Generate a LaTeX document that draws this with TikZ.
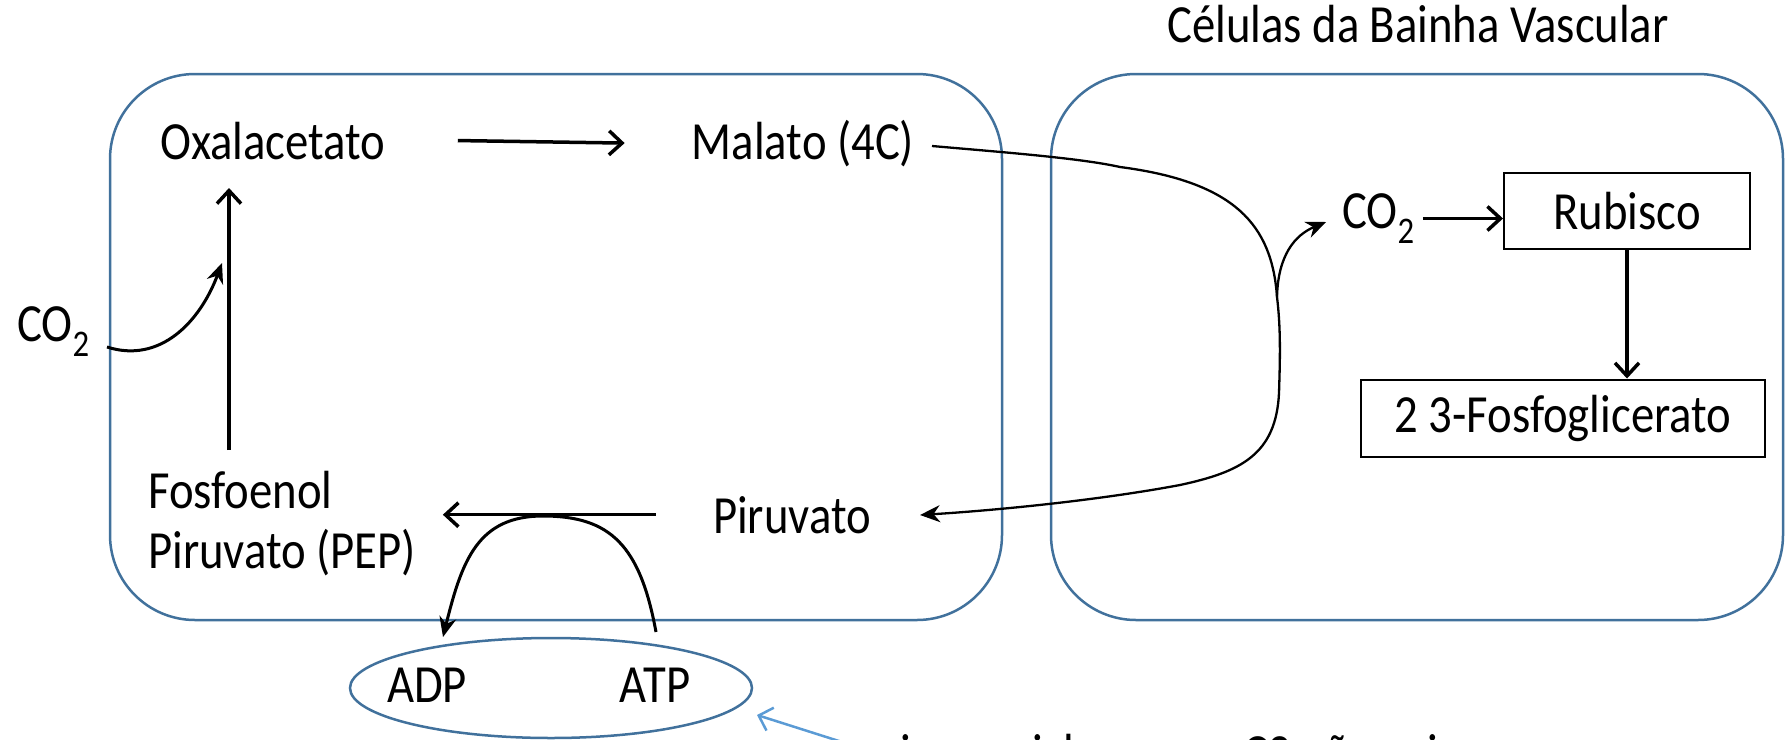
\documentclass[tikz,border=0pt]{standalone}
\usepackage{fontspec}
\setmainfont{Carlito}[FakeStretch=0.87]
\usetikzlibrary{arrows.meta,shapes.geometric}
\definecolor{cellblue}{RGB}{65,113,156}
\definecolor{noteblue}{RGB}{91,155,213}
\tikzset{
  lbl/.style={font=\fontsize{53.7}{60}\selectfont, inner sep=0pt},
  boxnode/.style={lbl, draw, line width=2pt},
  cell/.style={draw=cellblue, line width=2.5pt, rounded corners=85pt},
  arr/.style={line width=3.5pt, -{Straight Barb[length=13pt,width=24pt]}},
  sarr/.style={line width=3pt, -{Stealth[length=20pt,width=17pt]}},
  thinarr/.style={line width=2.3pt, -{Stealth[length=20pt,width=17pt]}},
  notearr/.style={draw=noteblue, line width=2.5pt, -{Straight Barb[length=12pt,width=24pt]}}
}
\begin{document}
\begin{tikzpicture}[x=1pt,y=-1pt]
\useasboundingbox (0,0) rectangle (1785,739);
\clip (0,0) rectangle (1785,739);
% cells
\draw[cell] (110,74) rectangle (1002,620);
\draw[cell] (1051,74) rectangle (1783,620);
% labels
\node[lbl, anchor=base] (oxal) at (273,159) {Oxalacetato};
\node[lbl, anchor=base] (mal) at (803,159) {Malato (4C)};
\node[lbl, anchor=base west] (co2l) at (17,341) {CO\textsubscript{2}};
\node[lbl, anchor=base] (pir) at (792,533) {Piruvato};
\node[lbl, anchor=north west, align=left] (pep) at (148,471) {Fosfoenol\\Piruvato (PEP)};
\node[ellipse, draw=cellblue, line width=2.5pt, minimum width=402pt, minimum height=100pt, inner sep=0pt] (ell) at (551,688) {};
\node[lbl, anchor=base] (adp) at (427,702) {ADP};
\node[lbl, anchor=base] (atp) at (655,702) {ATP};
\node[lbl, anchor=base] (title) at (1418,42) {Células da Bainha Vascular};
\node[lbl, anchor=base west] (co2r) at (1342,228) {CO\textsubscript{2}};
\node[boxnode, minimum width=246pt, minimum height=76pt] (rub) at (1627,211) {Rubisco};
\node[boxnode, minimum width=404pt, minimum height=77pt] (pga) at (1563,418) {2 3-Fosfoglicerato};
\node[lbl, anchor=base west] (note) at (841,771) {mais um ciclo que as C3 não exigem};
% coordinates
\coordinate (vb) at (229,450);
\coordinate (vt) at (229,188);
\coordinate (c1) at (107,347);
\coordinate (c1t) at (222,263);
\coordinate (ms) at (932,146);
\coordinate (br) at (1277,297);
\coordinate (co2tip) at (1326,222);
\coordinate (pirtip) at (920,515);
\coordinate (atps) at (656,632);
\coordinate (arctop) at (543,516);
\coordinate (adpt) at (443,637);
\coordinate (ntail) at (842,742);
\coordinate (ntip) at (757,715);
% arrows
\draw[arr] ([xshift=72pt]oxal.east) -- ([xshift=-67pt]mal.west);
\draw[arr] (vb) -- (vt);
\draw[sarr] (c1) .. controls (160,364) and (200,322) .. (c1t);
\draw[arr] ([xshift=-57pt]pir.west) -- ([xshift=-270pt]pir.west);
\draw[sarr] (atps) .. controls (640,545) and (610,516) .. (arctop) .. controls (478,516) and (462,560) .. (adpt);
\draw[thinarr] (ms) .. controls (1000,152) and (1080,158) .. (1120,167)
   .. controls (1235,182) and (1272,225) .. (br)
   .. controls (1281,330) and (1280,360) .. (1279,393)
   .. controls (1276,455) and (1240,472) .. (1180,485)
   .. controls (1100,500) and (1000,510) .. (pirtip);
\draw[thinarr] (br) .. controls (1278,255) and (1295,235) .. (co2tip);
\draw[arr] ([xshift=8pt]co2r.east) -- (co2r.east -| rub.west);
\draw[arr] (rub.south) -- (rub.south |- pga.north);
\draw[notearr] (ntail) -- (ntip);
\end{tikzpicture}
\end{document}
